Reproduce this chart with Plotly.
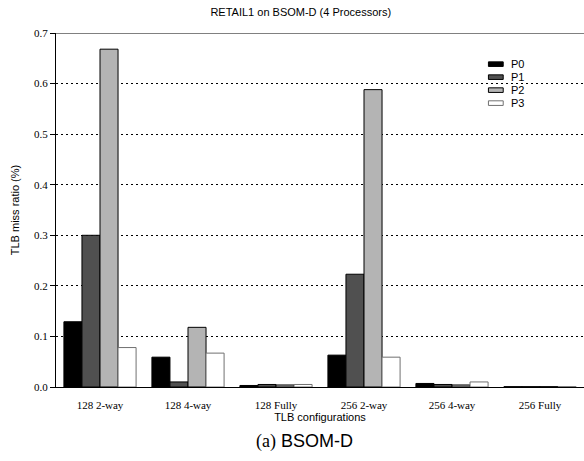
import plotly.graph_objects as go

# TLB miss ratios (%) per configuration and processor
configs = ["128 2-way", "128 4-way", "128 Fully", "256 2-way", "256 4-way", "256 Fully"]
p0 = [0.129, 0.059, 0.003, 0.063, 0.007, 0.0006]
p1 = [0.300, 0.010, 0.005, 0.223, 0.005, 0.0006]
p2 = [0.668, 0.118, 0.004, 0.588, 0.004, 0.0006]
p3 = [0.078, 0.067, 0.005, 0.059, 0.010, 0.0006]
series_names = ["P0", "P1", "P2", "P3"]
fills = ["#000000", "#505050", "#b4b4b4", "#ffffff"]
outlines = ["#000000", "#000000", "#000000", "#707070"]
y_ticks = [0.0, 0.1, 0.2, 0.3, 0.4, 0.5, 0.6, 0.7]

serif = "Liberation Serif"
sans = "Liberation Sans"

fig = go.Figure()
for name, vals, fc, lc in zip(series_names, [p0, p1, p2, p3], fills, outlines):
    fig.add_bar(x=configs, y=vals, name=name, marker=dict(color=fc, line=dict(color=lc, width=1)),
                showlegend=False)

# Hand-drawn legend: flat swatches with labels
for i, (name, fc, lc) in enumerate(zip(series_names, fills, outlines)):
    y_top = 0.9185 - i * 0.0367
    fig.add_shape(type="rect", xref="paper", yref="paper",
                  x0=0.819, x1=0.847, y0=y_top - 0.013, y1=y_top,
                  fillcolor=fc, line=dict(color=lc, width=1), layer="above")
    fig.add_annotation(xref="paper", yref="paper", x=0.858, y=y_top - 0.0065, text=name,
                       showarrow=False, xanchor="left", yanchor="middle",
                       font=dict(family=sans, size=11, color="black"))

# Gray frame line along the top of the plot
fig.add_shape(type="line", xref="paper", yref="y", x0=0, x1=1, y0=0.7, y1=0.7,
              line=dict(color="#808080", width=2), layer="above")

# Caption below the chart
fig.add_annotation(xref="paper", yref="paper", x=0.47, y=-0.118, showarrow=False,
                   xanchor="center", yanchor="top",
                   text="<span style='font-family:Liberation Serif'>(a)</span> BSOM-D",
                   font=dict(family=sans, size=18, color="black"))

fig.update_layout(
    width=584, height=461,
    margin=dict(l=56, r=0, t=33, b=74),
    paper_bgcolor="white", plot_bgcolor="white",
    barmode="group", bargap=0.18, bargroupgap=0,
    title=dict(text="RETAIL1 on BSOM-D (4 Processors)", x=0.515, xanchor="center",
               y=0.974, yanchor="middle", font=dict(family=sans, size=11, color="black")),
)
fig.update_xaxes(
    showline=True, linecolor="black", linewidth=1, ticks="", ticklabelstandoff=8,
    tickfont=dict(family=serif, size=11, color="black"),
    title=dict(text="TLB configurations", font=dict(family=sans, size=11, color="black"), standoff=2),
    range=[-0.5, 5.5], showgrid=False,
)
fig.update_yaxes(
    range=[0, 0.7], tickvals=y_ticks, ticktext=[f"{v:.1f}" for v in y_ticks],
    showline=True, linecolor="black", linewidth=1, ticks="outside", ticklen=5, tickcolor="black",
    tickfont=dict(family=serif, size=11, color="black"),
    showgrid=True, gridcolor="black", griddash="2px,3px", gridwidth=1, zeroline=False,
    title=dict(text="TLB miss ratio (%)", font=dict(family=sans, size=11, color="black"), standoff=12),
)

fig.write_html("out.html")
